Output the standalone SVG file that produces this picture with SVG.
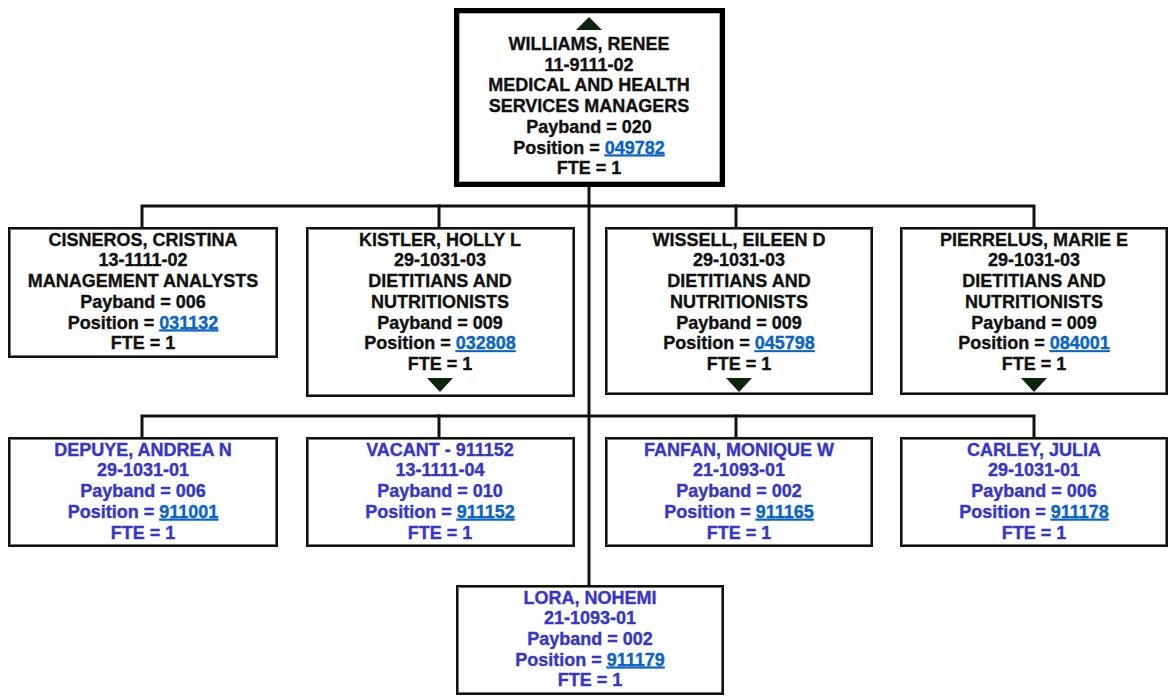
<svg xmlns="http://www.w3.org/2000/svg" width="1172" height="698" viewBox="0 0 1172 698">
  <defs>
    <style>
      .box { fill: #ffffff; stroke: #111111; stroke-width: 3; }
      .box-inner { fill: none; stroke: #9a9a9a; stroke-width: 0.7; }
      .root { fill: #ffffff; stroke: #000000; stroke-width: 5; }
      .root-inner { fill: none; stroke: #a0a0a0; stroke-width: 0.8; }
      .wire { fill: none; stroke: #111111; stroke-width: 3; stroke-linecap: square; }
      text { font-family: "Liberation Sans", Arial, sans-serif; font-weight: bold; font-size: 18px; text-anchor: middle; stroke-width: 0.35; }
      .t { fill: #111111; stroke: #111111; }
      .b { fill: #3636c8; stroke: #3636c8; }
      .lnk { fill: #0a64c8; stroke: #0a64c8; text-decoration: underline; }
      .tri { fill: #0b260b; }
    </style>
  </defs>

  <!-- connectors -->
  <g id="connectors">
    <line class="wire" x1="589" y1="187" x2="589" y2="585"/>
    <polyline class="wire" points="142,227 142,206 1034,206 1034,227"/>
    <line class="wire" x1="439" y1="206" x2="439" y2="227"/>
    <line class="wire" x1="736" y1="206" x2="736" y2="227"/>
    <polyline class="wire" points="142,437 142,416 1034,416 1034,437"/>
    <line class="wire" x1="439" y1="416" x2="439" y2="437"/>
    <line class="wire" x1="736" y1="416" x2="736" y2="437"/>
  </g>

  <!-- root -->
  <g id="williams">
    <rect class="root" x="456.5" y="10.5" width="266" height="174"/>
    <rect class="root-inner" x="459.4" y="13.4" width="260.2" height="168.2"/>
    <polygon class="tri" points="576,30 602,30 589,17"/>
    <text class="t" x="589" y="50">WILLIAMS, RENEE</text>
    <text class="t" x="589" y="70.7">11-9111-02</text>
    <text class="t" x="589" y="91.4">MEDICAL AND HEALTH</text>
    <text class="t" x="589" y="112.1">SERVICES MANAGERS</text>
    <text class="t" x="589" y="132.8">Payband = 020</text>
    <text class="t" x="589" y="153.5">Position = <tspan class="lnk">049782</tspan></text>
    <text class="t" x="589" y="174.2">FTE = 1</text>
  </g>

  <!-- level 1 -->
  <g id="cisneros">
    <rect class="box" x="9.5" y="228.5" width="267" height="128"/>
    <rect class="box-inner" x="10.5" y="229.5" width="265" height="126"/>
    <text class="t" x="143" y="245.7">CISNEROS, CRISTINA</text>
    <text class="t" x="143" y="266.4">13-1111-02</text>
    <text class="t" x="143" y="287.1">MANAGEMENT ANALYSTS</text>
    <text class="t" x="143" y="307.8">Payband = 006</text>
    <text class="t" x="143" y="328.5">Position = <tspan class="lnk">031132</tspan></text>
    <text class="t" x="143" y="349.2">FTE = 1</text>
  </g>

  <g id="kistler">
    <rect class="box" x="307.5" y="228.5" width="266" height="167"/>
    <rect class="box-inner" x="308.5" y="229.5" width="264" height="165"/>
    <text class="t" x="440" y="245.7">KISTLER, HOLLY L</text>
    <text class="t" x="440" y="266.4">29-1031-03</text>
    <text class="t" x="440" y="287.1">DIETITIANS AND</text>
    <text class="t" x="440" y="307.8">NUTRITIONISTS</text>
    <text class="t" x="440" y="328.5">Payband = 009</text>
    <text class="t" x="440" y="349.2">Position = <tspan class="lnk">032808</tspan></text>
    <text class="t" x="440" y="369.9">FTE = 1</text>
    <polygon class="tri" points="427,378 453,378 440,392"/>
  </g>

  <g id="wissell">
    <rect class="box" x="606.5" y="228.5" width="265" height="165"/>
    <rect class="box-inner" x="607.5" y="229.5" width="263" height="163"/>
    <text class="t" x="739" y="245.7">WISSELL, EILEEN D</text>
    <text class="t" x="739" y="266.4">29-1031-03</text>
    <text class="t" x="739" y="287.1">DIETITIANS AND</text>
    <text class="t" x="739" y="307.8">NUTRITIONISTS</text>
    <text class="t" x="739" y="328.5">Payband = 009</text>
    <text class="t" x="739" y="349.2">Position = <tspan class="lnk">045798</tspan></text>
    <text class="t" x="739" y="369.9">FTE = 1</text>
    <polygon class="tri" points="726,378 752,378 739,392"/>
  </g>

  <g id="pierrelus">
    <rect class="box" x="901.5" y="228.5" width="265" height="165"/>
    <rect class="box-inner" x="902.5" y="229.5" width="263" height="163"/>
    <text class="t" x="1034" y="245.7">PIERRELUS, MARIE E</text>
    <text class="t" x="1034" y="266.4">29-1031-03</text>
    <text class="t" x="1034" y="287.1">DIETITIANS AND</text>
    <text class="t" x="1034" y="307.8">NUTRITIONISTS</text>
    <text class="t" x="1034" y="328.5">Payband = 009</text>
    <text class="t" x="1034" y="349.2">Position = <tspan class="lnk">084001</tspan></text>
    <text class="t" x="1034" y="369.9">FTE = 1</text>
    <polygon class="tri" points="1021,378 1047,378 1034,392"/>
  </g>

  <!-- level 2 -->
  <g id="depuye">
    <rect class="box" x="9.5" y="438.5" width="267" height="107"/>
    <rect class="box-inner" x="10.5" y="439.5" width="265" height="105"/>
    <text class="b" x="143" y="455.7">DEPUYE, ANDREA N</text>
    <text class="b" x="143" y="476.4">29-1031-01</text>
    <text class="b" x="143" y="497.1">Payband = 006</text>
    <text class="b" x="143" y="517.8">Position = <tspan class="lnk">911001</tspan></text>
    <text class="b" x="143" y="538.5">FTE = 1</text>
  </g>

  <g id="vacant">
    <rect class="box" x="307.5" y="438.5" width="266" height="107"/>
    <rect class="box-inner" x="308.5" y="439.5" width="264" height="105"/>
    <text class="b" x="440" y="455.7">VACANT - 911152</text>
    <text class="b" x="440" y="476.4">13-1111-04</text>
    <text class="b" x="440" y="497.1">Payband = 010</text>
    <text class="b" x="440" y="517.8">Position = <tspan class="lnk">911152</tspan></text>
    <text class="b" x="440" y="538.5">FTE = 1</text>
  </g>

  <g id="fanfan">
    <rect class="box" x="606.5" y="438.5" width="265" height="107"/>
    <rect class="box-inner" x="607.5" y="439.5" width="263" height="105"/>
    <text class="b" x="739" y="455.7">FANFAN, MONIQUE W</text>
    <text class="b" x="739" y="476.4">21-1093-01</text>
    <text class="b" x="739" y="497.1">Payband = 002</text>
    <text class="b" x="739" y="517.8">Position = <tspan class="lnk">911165</tspan></text>
    <text class="b" x="739" y="538.5">FTE = 1</text>
  </g>

  <g id="carley">
    <rect class="box" x="901.5" y="438.5" width="265" height="107"/>
    <rect class="box-inner" x="902.5" y="439.5" width="263" height="105"/>
    <text class="b" x="1034" y="455.7">CARLEY, JULIA</text>
    <text class="b" x="1034" y="476.4">29-1031-01</text>
    <text class="b" x="1034" y="497.1">Payband = 006</text>
    <text class="b" x="1034" y="517.8">Position = <tspan class="lnk">911178</tspan></text>
    <text class="b" x="1034" y="538.5">FTE = 1</text>
  </g>

  <g id="lora">
    <rect class="box" x="457.5" y="586.5" width="265" height="107"/>
    <rect class="box-inner" x="458.5" y="587.5" width="263" height="105"/>
    <text class="b" x="590" y="603.5">LORA, NOHEMI</text>
    <text class="b" x="590" y="624.2">21-1093-01</text>
    <text class="b" x="590" y="644.9">Payband = 002</text>
    <text class="b" x="590" y="665.6">Position = <tspan class="lnk">911179</tspan></text>
    <text class="b" x="590" y="686.3">FTE = 1</text>
  </g>
</svg>
